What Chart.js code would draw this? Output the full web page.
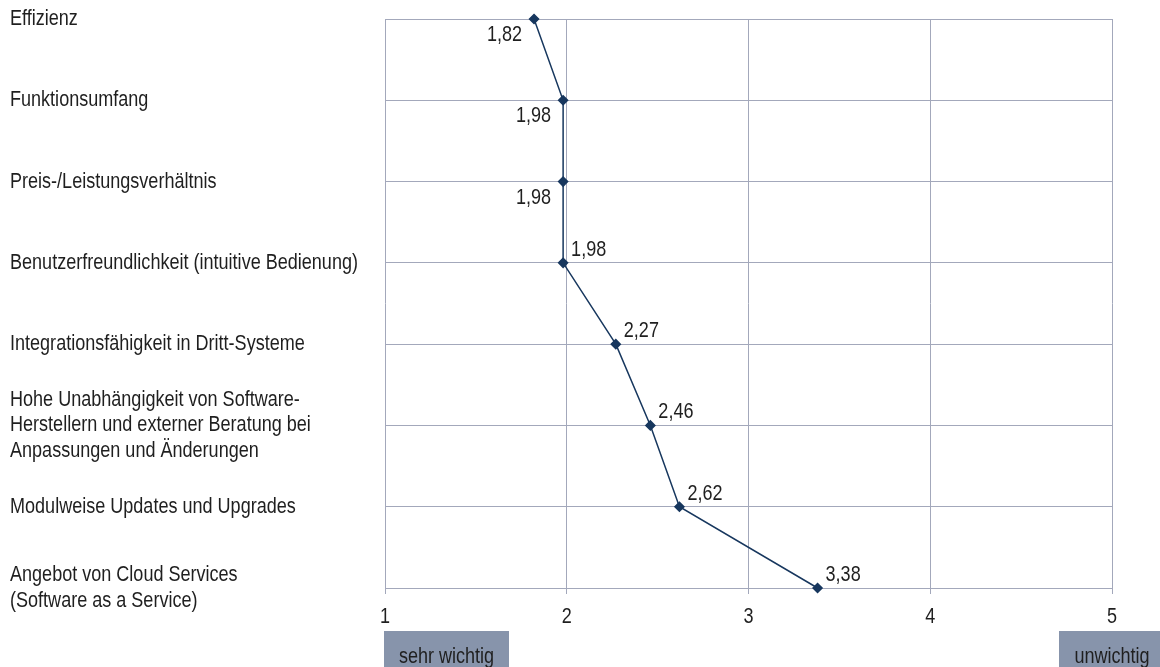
<!DOCTYPE html>
<html lang="de">
<head>
<meta charset="utf-8">
<title>Wichtigkeit der Kriterien</title>
<script src="https://cdn.jsdelivr.net/npm/chart.js@4.4.1/dist/chart.umd.min.js"></script>
<style>
  html, body { margin: 0; padding: 0; background: #ffffff; }
  #wrap { width: 1160px; height: 667px; position: relative; }
</style>
</head>
<body>
<div id="wrap"><canvas id="chart" width="1160" height="667"></canvas></div>
<script>
// Kriterien (von oben nach unten)
const criteria = [
  ['Effizienz'],
  ['Funktionsumfang'],
  ['Preis-/Leistungsverhältnis'],
  ['Benutzerfreundlichkeit (intuitive Bedienung)'],
  ['Integrationsfähigkeit in Dritt-Systeme'],
  ['Hohe Unabhängigkeit von Software-', 'Herstellern und externer Beratung bei', 'Anpassungen und Änderungen'],
  ['Modulweise Updates und Upgrades'],
  ['Angebot von Cloud Services', '(Software as a Service)']
];

// Mittelwerte (1 = sehr wichtig, 5 = unwichtig)
const meanScores = [1.82, 1.98, 1.98, 1.98, 2.27, 2.46, 2.62, 3.38];

// Skala
const scaleMin = 1;
const scaleMax = 5;
const scaleTicks = [1, 2, 3, 4, 5];
const scaleEndLabels = ['sehr wichtig', 'unwichtig'];

// Lage der Wertbeschriftung je Punkt
const labelSide = ['below-left', 'below-left', 'below-left', 'above-right',
                   'above-right', 'above-right', 'above-right', 'above-right'];

// Schmale Grotesk: Liberation Sans horizontal gestaucht
const FONT = '22px "Liberation Sans", Arial, sans-serif';
const SQUEEZE = 0.82;
const GRID = '#a3a8bb';
const LINE = '#17375e';
const TEXT = '#1f1f1f';

const formatDe = v => v.toFixed(2).replace('.', ',');

function narrowText(ctx, text, x, y, align) {
  ctx.save();
  ctx.translate(x, y);
  ctx.scale(SQUEEZE, 1);
  ctx.font = FONT;
  ctx.textAlign = align;
  ctx.textBaseline = 'alphabetic';
  ctx.fillText(text, 0, 0);
  ctx.restore();
}

// Achsenbeschriftungen (Kriterien links, Skalenwerte unten)
const axisText = {
  id: 'axisText',
  afterDraw(chart) {
    const ctx = chart.ctx;
    const ys = chart.scales.y;
    const xs = chart.scales.x;
    ctx.save();
    ctx.fillStyle = TEXT;
    const lineGap = 25.5;
    criteria.forEach((lines, i) => {
      const yc = ys.getPixelForValue(i);
      lines.forEach((line, k) => {
        const base = yc + 6 + (k - (lines.length - 1) / 2) * lineGap;
        narrowText(ctx, line, 10, base, 'left');
      });
    });
    scaleTicks.forEach(v => {
      narrowText(ctx, String(v), xs.getPixelForValue(v), chart.chartArea.bottom + 35, 'center');
    });
    ctx.restore();
  }
};

// Wertbeschriftungen an den Punkten
const valueLabels = {
  id: 'valueLabels',
  afterDatasetsDraw(chart) {
    const ctx = chart.ctx;
    const meta = chart.getDatasetMeta(0);
    ctx.save();
    ctx.fillStyle = TEXT;
    meta.data.forEach((pt, i) => {
      const txt = formatDe(meanScores[i]);
      if (labelSide[i] === 'below-left') {
        narrowText(ctx, txt, pt.x - 12, pt.y + 22, 'right');
      } else {
        narrowText(ctx, txt, pt.x + 8, pt.y - 7, 'left');
      }
    });
    ctx.restore();
  }
};

// Kästen "sehr wichtig" / "unwichtig" unter der Skala
const endBoxes = {
  id: 'endBoxes',
  afterDraw(chart) {
    const ctx = chart.ctx;
    const xs = chart.scales.x;
    const top = chart.chartArea.bottom + 43;
    const h = chart.height - top;
    const x1 = xs.getPixelForValue(scaleMin);
    const x5 = xs.getPixelForValue(scaleMax);
    const boxes = [
      { x: x1 - 1, w: 125, text: scaleEndLabels[0] },
      { x: x5 - 53, w: 106, text: scaleEndLabels[1] }
    ];
    ctx.save();
    boxes.forEach(b => {
      ctx.fillStyle = '#8794ab';
      ctx.fillRect(b.x, top, b.w, h);
      ctx.fillStyle = TEXT;
      narrowText(ctx, b.text, b.x + b.w / 2, top + 32, 'center');
    });
    ctx.restore();
  }
};

new Chart(document.getElementById('chart'), {
  type: 'line',
  data: {
    labels: criteria,
    datasets: [{
      data: meanScores,
      borderColor: LINE,
      backgroundColor: LINE,
      borderWidth: 1.5,
      pointStyle: 'rectRot',
      pointRadius: 4.5,
      pointHoverRadius: 4.5,
      pointBackgroundColor: LINE,
      pointBorderColor: LINE,
      tension: 0,
      clip: false
    }]
  },
  options: {
    indexAxis: 'y',
    responsive: false,
    animation: false,
    devicePixelRatio: 1,
    layout: { padding: { top: 19, right: 48, left: 10, bottom: 0 } },
    plugins: { legend: { display: false }, tooltip: { enabled: false } },
    scales: {
      x: {
        type: 'linear',
        min: scaleMin,
        max: scaleMax,
        afterFit(scale) { scale.height = 79; },
        ticks: { stepSize: 1, display: false },
        grid: { color: GRID, lineWidth: 1, tickLength: 6, drawTicks: true },
        border: { display: false }
      },
      y: {
        type: 'category',
        offset: false,
        afterFit(scale) { scale.width = 375; },
        ticks: { display: false, autoSkip: false },
        grid: { color: GRID, lineWidth: 1, drawTicks: false },
        border: { display: false }
      }
    }
  },
  plugins: [valueLabels, axisText, endBoxes]
});
</script>
</body>
</html>
